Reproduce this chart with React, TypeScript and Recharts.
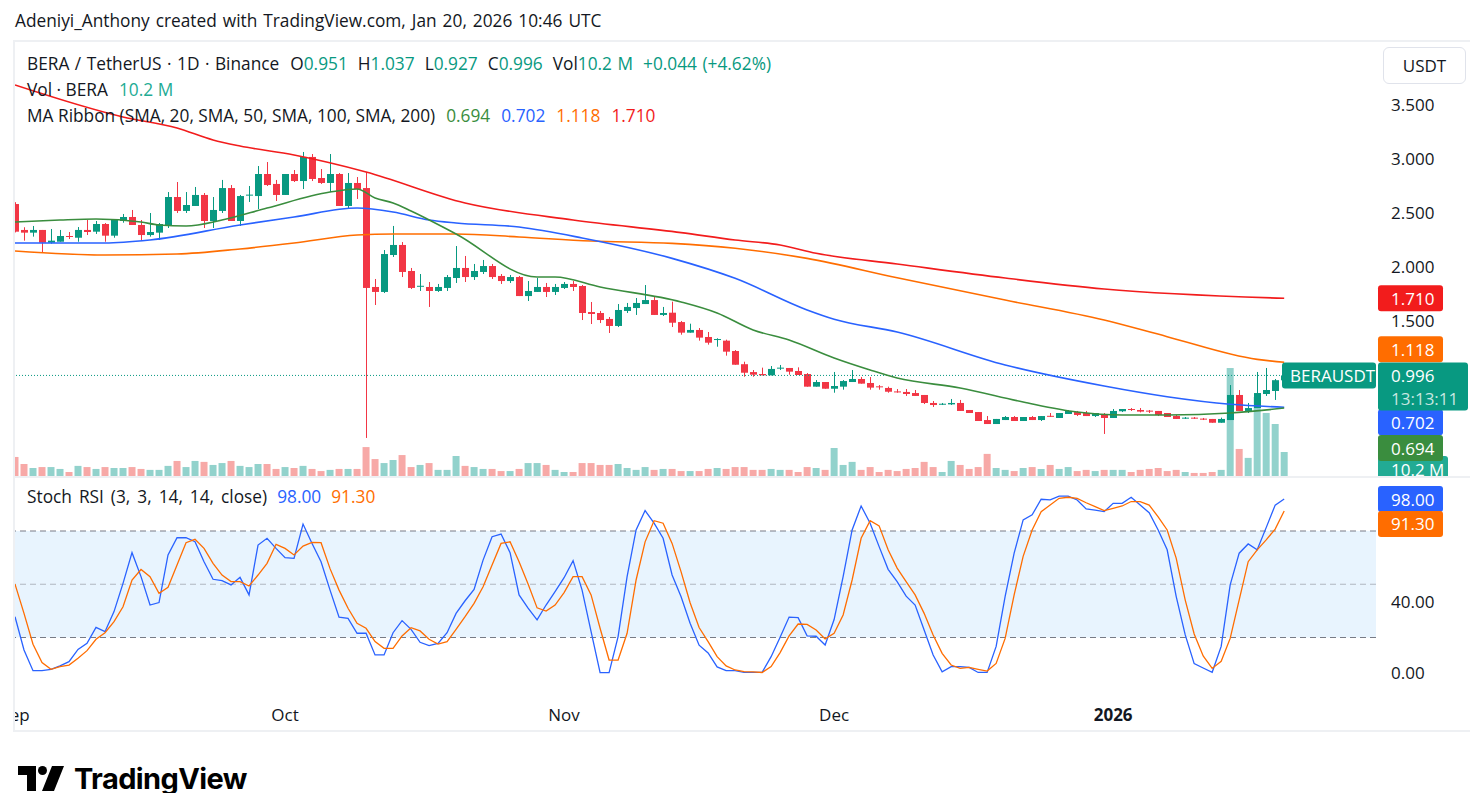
import React from "react";
import {
  ComposedChart,
  Bar,
  Line,
  XAxis,
  YAxis,
  ReferenceLine,
  ReferenceArea,
  ReferenceDot,
  Cell,
} from "recharts";

const FONT = "'Open Sans', 'Noto Sans', sans-serif";
const UP = "#089981";
const DOWN = "#f23645";
const VOL_UP = "#92d2cc";
const VOL_DOWN = "#f7a9a7";
const C20 = "#3a8d3e";
const C50 = "#2962ff";
const C100 = "#ff6d00";
const C200 = "#f21c1c";
const TXT = "#131722";

// ---- daily candles, Sep 1 2025 .. Jan 20 2026 ----
const opens = [
  2.583, 2.343, 2.318, 2.343, 2.225, 2.234, 2.287, 2.271, 2.343, 2.327,
  2.398, 2.29, 2.426, 2.463, 2.389, 2.296, 2.318, 2.389, 2.648, 2.519,
  2.565, 2.667, 2.426, 2.519, 2.731, 2.426, 2.664, 2.657, 2.861, 2.769,
  2.667, 2.861, 2.796, 3.019, 2.824, 2.778, 2.861, 2.565, 2.778, 2.731,
  1.815, 1.769, 2.111, 2.204, 1.963, 1.82, 1.815, 1.778, 1.806, 1.898,
  1.991, 1.907, 1.954, 2.009, 1.917, 1.87, 1.907, 1.731, 1.769, 1.815,
  1.769, 1.806, 1.843, 1.824, 1.583, 1.574, 1.519, 1.454, 1.593, 1.62,
  1.657, 1.694, 1.556, 1.577, 1.49, 1.392, 1.417, 1.352, 1.327, 1.318,
  1.222, 1.1, 1.027, 1.009, 0.997, 1.062, 1.065, 1.037, 1.009, 0.892,
  0.935, 0.873, 0.892, 0.935, 0.963, 0.926, 0.895, 0.88, 0.848, 0.843,
  0.833, 0.815, 0.741, 0.728, 0.728, 0.741, 0.676, 0.657, 0.583, 0.546,
  0.583, 0.611, 0.574, 0.611, 0.583, 0.622, 0.602, 0.639, 0.657, 0.648,
  0.62, 0.639, 0.602, 0.664, 0.685, 0.676, 0.67, 0.667, 0.648, 0.62,
  0.599, 0.605, 0.596, 0.593, 0.558, 0.583, 0.815, 0.667, 0.694, 0.824,
  0.852, 0.951,
];
const highs = [
  2.6, 2.368, 2.38, 2.343, 2.352, 2.343, 2.324, 2.37, 2.435, 2.426,
  2.407, 2.435, 2.491, 2.528, 2.435, 2.5, 2.407, 2.694, 2.787, 2.694,
  2.741, 2.685, 2.648, 2.806, 2.759, 2.667, 2.75, 2.935, 2.972, 2.806,
  2.861, 2.898, 3.065, 3.046, 2.907, 3.046, 2.87, 2.87, 2.833, 2.88,
  1.889, 2.157, 2.38, 2.231, 1.991, 1.935, 1.861, 1.843, 1.926, 2.194,
  2.102, 2.028, 2.065, 2.028, 1.935, 1.926, 1.917, 1.87, 1.898, 1.852,
  1.843, 1.861, 1.87, 1.833, 1.676, 1.593, 1.537, 1.657, 1.667, 1.713,
  1.833, 1.722, 1.63, 1.679, 1.5, 1.475, 1.435, 1.398, 1.34, 1.327,
  1.231, 1.123, 1.046, 1.068, 1.083, 1.093, 1.065, 1.071, 1.018, 0.953,
  0.935, 1.028, 0.953, 1.046, 0.981, 0.981, 0.907, 0.892, 0.87, 0.87,
  0.861, 0.815, 0.759, 0.741, 0.778, 0.769, 0.676, 0.657, 0.62, 0.593,
  0.62, 0.62, 0.611, 0.62, 0.62, 0.648, 0.648, 0.676, 0.667, 0.667,
  0.648, 0.648, 0.685, 0.685, 0.694, 0.694, 0.676, 0.667, 0.648, 0.63,
  0.611, 0.611, 0.602, 0.593, 0.605, 0.907, 0.861, 0.741, 1.028, 1.065,
  0.963, 1.037,
];
const lows = [
  2.32, 2.244, 2.281, 2.139, 2.216, 2.234, 2.259, 2.234, 2.296, 2.306,
  2.234, 2.271, 2.41, 2.389, 2.244, 2.281, 2.25, 2.361, 2.5, 2.5,
  2.565, 2.361, 2.361, 2.5, 2.426, 2.38, 2.602, 2.537, 2.75, 2.611,
  2.667, 2.787, 2.722, 2.796, 2.769, 2.694, 2.565, 2.537, 2.63, 0.417,
  1.648, 1.759, 2.093, 1.907, 1.796, 1.778, 1.63, 1.769, 1.778, 1.852,
  1.861, 1.88, 1.935, 1.889, 1.843, 1.852, 1.731, 1.685, 1.769, 1.722,
  1.741, 1.796, 1.778, 1.509, 1.472, 1.481, 1.389, 1.444, 1.574, 1.556,
  1.657, 1.556, 1.546, 1.444, 1.373, 1.392, 1.318, 1.281, 1.262, 1.179,
  1.095, 0.984, 0.984, 0.997, 0.997, 1.046, 1.003, 1.0, 0.892, 0.892,
  0.873, 0.836, 0.864, 0.935, 0.92, 0.864, 0.864, 0.836, 0.836, 0.806,
  0.806, 0.731, 0.704, 0.722, 0.722, 0.667, 0.648, 0.574, 0.546, 0.546,
  0.583, 0.574, 0.574, 0.583, 0.574, 0.611, 0.602, 0.639, 0.62, 0.62,
  0.611, 0.454, 0.602, 0.657, 0.667, 0.654, 0.648, 0.62, 0.611, 0.593,
  0.593, 0.593, 0.583, 0.558, 0.558, 0.583, 0.667, 0.648, 0.694, 0.806,
  0.769, 0.927,
];
const closes = [
  2.327, 2.318, 2.343, 2.225, 2.244, 2.287, 2.278, 2.343, 2.324, 2.398,
  2.29, 2.435, 2.463, 2.389, 2.296, 2.324, 2.398, 2.648, 2.519, 2.574,
  2.667, 2.426, 2.528, 2.731, 2.426, 2.657, 2.67, 2.861, 2.759, 2.667,
  2.861, 2.796, 3.019, 2.815, 2.778, 2.861, 2.565, 2.778, 2.722, 1.806,
  1.769, 2.12, 2.204, 1.954, 1.806, 1.826, 1.778, 1.815, 1.907, 1.991,
  1.907, 1.963, 2.009, 1.907, 1.87, 1.907, 1.731, 1.778, 1.815, 1.769,
  1.815, 1.843, 1.815, 1.574, 1.565, 1.509, 1.454, 1.602, 1.63, 1.667,
  1.694, 1.556, 1.574, 1.484, 1.392, 1.417, 1.346, 1.299, 1.333, 1.216,
  1.095, 1.021, 1.003, 0.997, 1.056, 1.068, 1.031, 1.0, 0.892, 0.935,
  0.873, 0.898, 0.944, 0.963, 0.92, 0.883, 0.889, 0.845, 0.842, 0.824,
  0.806, 0.741, 0.722, 0.734, 0.741, 0.667, 0.648, 0.574, 0.546, 0.593,
  0.611, 0.574, 0.611, 0.583, 0.62, 0.616, 0.648, 0.667, 0.63, 0.62,
  0.648, 0.602, 0.667, 0.685, 0.676, 0.661, 0.664, 0.63, 0.611, 0.593,
  0.605, 0.599, 0.59, 0.558, 0.593, 0.815, 0.667, 0.694, 0.833, 0.861,
  0.952, 0.996,
];
// volume, millions of BERA
const volumes = [
  8.1, 5.1, 3.4, 3.8, 3.8, 3.0, 1.7, 4.3, 3.8, 3.0,
  3.8, 3.4, 3.4, 3.8, 3.0, 2.6, 2.6, 4.3, 6.4, 3.8,
  6.4, 6.0, 4.7, 5.5, 6.4, 4.3, 3.8, 5.1, 5.1, 3.0,
  3.8, 3.4, 4.3, 3.0, 2.1, 2.6, 3.0, 3.0, 3.0, 12.3,
  7.2, 5.5, 6.8, 8.9, 3.8, 4.7, 5.5, 2.6, 2.6, 8.5,
  4.3, 3.8, 3.0, 3.0, 2.1, 2.1, 3.0, 5.5, 5.5, 4.7,
  2.6, 1.7, 1.7, 5.5, 5.5, 4.7, 4.7, 5.1, 3.4, 2.6,
  3.8, 2.6, 3.0, 3.0, 2.1, 2.1, 2.1, 3.0, 3.4, 3.0,
  3.8, 3.8, 2.6, 2.6, 3.0, 2.6, 2.6, 1.7, 3.8, 3.4,
  2.6, 11.9, 4.7, 6.0, 2.6, 3.8, 1.7, 2.6, 2.1, 3.0,
  3.4, 6.0, 3.8, 1.7, 6.4, 4.7, 3.0, 3.8, 9.4, 3.4,
  2.6, 2.1, 3.4, 3.8, 3.0, 4.7, 3.0, 3.8, 2.1, 2.6,
  2.1, 2.6, 2.6, 2.6, 1.7, 2.6, 3.0, 3.4, 2.1, 2.6,
  1.7, 1.3, 1.3, 1.7, 2.6, 45.9, 11.5, 7.7, 33.6, 26.8,
  22.1, 10.2,
];
// Stoch RSI (3, 3, 14, 14)
const stochK = [
  31.7, 13, 1.3, 1.3, 2.1, 4, 6.4, 13.3, 16.7, 25.7,
  23.3, 34.6, 50.5, 67.8, 54.3, 38.3, 39.7, 66.5, 76.2, 76.2,
  74, 62.7, 52.8, 52, 49.6, 53.9, 44, 72.1, 75.9, 70.2,
  65, 64.6, 83.9, 73, 62.7, 46.7, 31.4, 30.8, 22.4, 22.4,
  10.2, 10.2, 22.7, 29.5, 24.6, 17.3, 15.4, 16.7, 22.7, 33.6,
  40.7, 47.1, 63.6, 76.8, 78.3, 67.8, 44, 36.5, 29.9, 38.3,
  45.9, 53.7, 63.3, 46.7, 23.3, 0.2, 0.2, 20.5, 54.3, 80.6,
  91.5, 84.4, 75.9, 55.2, 43, 28, 15.7, 11.3, 3.4, 1.3,
  1.3, 0.4, 0.4, 0.4, 9.2, 20.1, 31.5, 31.2, 20.9, 20.7,
  15.8, 30.1, 54.3, 80.6, 94.1, 84.4, 71.2, 58.4, 51.5, 43.3,
  38.3, 24.2, 10.1, 0.7, 3.6, 3.6, 3.2, 0.3, 0.3, 15,
  43.2, 67.5, 86.3, 89.1, 97.9, 97.5, 99.7, 99.7, 97.5, 92.4,
  91.8, 90.9, 95.6, 95.6, 99, 94.6, 90.3, 80.6, 69.4, 43.2,
  21.6, 5.3, 2.8, 0.4, 15, 49.7, 67.5, 72.7, 69.4, 81.9,
  94.6, 98.0,
];
const stochD = [
  50.1, 33.6, 16.2, 5.9, 2.1, 3.6, 4.5, 8.3, 12.6, 19,
  22.7, 28.9, 37.3, 52.4, 58.3, 54.3, 44.9, 48.3, 60.8, 73.4,
  75.3, 70.2, 61.8, 55.2, 51.5, 51.5, 49, 55.2, 61.8, 72.5,
  70.2, 66.5, 71.5, 73.6, 73.4, 58.8, 46.7, 36.5, 28, 25.2,
  17.7, 13.9, 13.9, 20.9, 25.5, 23.7, 19, 16.3, 17.7, 24.6,
  31.7, 39.2, 48.6, 60.8, 73, 73.9, 62.7, 50.1, 36.7, 34.9,
  38.3, 45.3, 54.3, 54.3, 44, 25.2, 7.3, 7.3, 22.4, 52.4,
  73.9, 85.8, 84.4, 73, 57, 39.6, 25.6, 17.7, 9.2, 4,
  1.7, 0.8, 0.6, 0.3, 3.6, 11.5, 20.9, 27.6, 27.4, 24.2,
  19.2, 22.4, 32.7, 52.4, 75.9, 85.8, 82.9, 69.4, 59.1, 51.5,
  44, 33.6, 21.4, 11.1, 4.5, 2.6, 3.2, 2.1, 1.1, 5.4,
  19.5, 44, 65.7, 80.6, 90.9, 94.6, 98.4, 99, 98.4, 95.9,
  93.7, 91.5, 92.8, 94.1, 96.6, 96.6, 94.6, 88, 80.6, 64.7,
  41.2, 22, 9.6, 2.6, 6.6, 19.5, 41.2, 62.7, 69.4, 75, 81.1, 91.3,
];
// MA ribbon readings [day index, value]
const ma20Pts: [number, number][] = [
  [0, 2.417], [5, 2.435], [9, 2.444], [14, 2.417], [16, 2.389], [19, 2.38],
  [23, 2.435], [28, 2.546], [35, 2.694], [38, 2.722], [40, 2.639], [42, 2.593],
  [44, 2.519], [49, 2.306], [58, 1.907], [60, 1.907], [65, 1.815], [74, 1.676],
  [78, 1.574], [82, 1.417], [86, 1.324], [91, 1.157], [95, 1.046], [98, 0.972],
  [105, 0.88], [112, 0.75], [118, 0.657], [123, 0.63], [128, 0.63], [135, 0.648],
  [141, 0.694],
];
const ma50Pts: [number, number][] = [
  [0, 2.222], [10, 2.222], [15, 2.25], [25, 2.389], [31, 2.463], [38, 2.546],
  [42, 2.509], [46, 2.435], [49, 2.407], [56, 2.37], [63, 2.269], [73, 2.08],
  [80, 1.895], [88, 1.602], [91, 1.516], [98, 1.398], [110, 1.093], [121, 0.898],
  [128, 0.799], [135, 0.729], [141, 0.702],
];
const ma100Pts: [number, number][] = [
  [0, 2.148], [10, 2.111], [18, 2.12], [25, 2.167], [31, 2.222], [38, 2.296],
  [42, 2.306], [49, 2.306], [56, 2.278], [64, 2.241], [73, 2.219], [80, 2.173],
  [88, 2.08], [98, 1.9], [110, 1.694], [121, 1.509], [128, 1.355], [138, 1.145],
  [141, 1.118],
];
const ma200Pts: [number, number][] = [
  [0, 3.685], [12, 3.389], [18, 3.287], [22, 3.176], [25, 3.12], [31, 3.037],
  [39, 2.88], [50, 2.593], [62, 2.435], [74, 2.318], [80, 2.25], [85, 2.204],
  [89, 2.127], [98, 2.028], [110, 1.898], [121, 1.796], [141, 1.71],
];

const priceTicks = [1.5, 2, 2.5, 3, 3.5];
const stochTicks = [0, 40];
const timeTickIdx = [0, 30, 61, 91, 122];
const timeLabels = ["Sep", "Oct", "Nov", "Dec", "2026"];

const X_DOMAIN: [number, number] = [0, 151.2];
const P_DOMAIN: [number, number] = [0.0648, 4.0833];
const V_DOMAIN: [number, number] = [0, 184.5];
const S_DOMAIN: [number, number] = [-15.21, 109.86];

const toMap = (pts: [number, number][]) => new Map(pts);
const m20 = toMap(ma20Pts);
const m50 = toMap(ma50Pts);
const m100 = toMap(ma100Pts);
const m200 = toMap(ma200Pts);

const data = opens.map((o, i) => ({
  i,
  open: o,
  high: highs[i],
  low: lows[i],
  close: closes[i],
  range: [lows[i], highs[i]],
  vol: volumes[i],
  up: closes[i] >= o,
  k: stochK[i],
  d: stochD[i],
  ma20: m20.has(i) ? m20.get(i) : null,
  ma50: m50.has(i) ? m50.get(i) : null,
  ma100: m100.has(i) ? m100.get(i) : null,
  ma200: m200.has(i) ? m200.get(i) : null,
}));

const last = data.length - 1;
const lastC = closes[last];
const prevC = closes[last - 1];
const chg = lastC - prevC;
const chgPct = (chg / prevC) * 100;

const Candle = (p: any) => {
  const d = p.payload || p;
  if (p.x == null || p.y == null) return null;
  const top = Math.min(p.y, p.y + p.height);
  const h = Math.abs(p.height);
  const span = d.high - d.low;
  const toY = (v: number) => (span === 0 ? top : top + ((d.high - v) / span) * h);
  const yO = toY(d.open);
  const yC = toY(d.close);
  const up = d.close >= d.open;
  const color = up ? UP : DOWN;
  const cx = Math.round(p.x + p.width / 2);
  const bTop = Math.min(yO, yC);
  const bH = Math.max(1, Math.abs(yC - yO));
  return (
    <g>
      <line x1={cx + 0.5} x2={cx + 0.5} y1={top} y2={top + Math.max(h, 1)} stroke={color} strokeWidth={1} />
      <rect x={cx - 3} y={bTop} width={7} height={bH} fill={color} />
    </g>
  );
};

const Tag = ({ cx, cy, dy = 0, w = 65, bg, text }: any) => {
  if (cx == null || cy == null) return null;
  const y = cy + dy;
  return (
    <g>
      <rect x={cx + 2} y={y - 13} width={w} height={26} rx={3} fill={bg} />
      <text x={cx + 15} y={y} dominantBaseline="central" fill="#fff" fontSize={17} fontFamily={FONT}>
        {text}
      </text>
    </g>
  );
};

const LastPriceTag = ({ cx, cy, text }: any) => {
  if (cx == null || cy == null) return null;
  return (
    <g>
      <rect x={cx - 94} y={cy - 13} width={94} height={26} rx={3} fill={UP} />
      <text x={cx - 86} y={cy} dominantBaseline="central" fill="#fff" fontSize={17} fontFamily={FONT}>
        BERAUSDT
      </text>
      <rect x={cx + 2} y={cy - 13} width={90} height={48} rx={3} fill={UP} />
      <text x={cx + 15} y={cy} dominantBaseline="central" fill="#fff" fontSize={17} fontFamily={FONT}>
        {text}
      </text>
      <text x={cx + 15} y={cy + 23} dominantBaseline="central" fill="rgba(255,255,255,0.78)" fontSize={17} fontFamily={FONT}>
        13:13:11
      </text>
    </g>
  );
};

const TimeTick = (p: any) => {
  const idx = timeTickIdx.indexOf(p.payload.value);
  const label = timeLabels[idx] ?? "";
  return (
    <text
      x={p.x}
      y={p.y + 14}
      textAnchor="middle"
      dominantBaseline="central"
      fontSize={17}
      fontWeight={label === "2026" ? 700 : 400}
      fill={TXT}
      fontFamily={FONT}
    >
      {label}
    </text>
  );
};

const legendRow: React.CSSProperties = {
  position: "absolute",
  left: 27,
  fontSize: 17.3,
  lineHeight: "26px",
  color: TXT,
  whiteSpace: "nowrap",
  fontFamily: FONT,
};

export default function App() {
  const ma20Last = ma20Pts[ma20Pts.length - 1][1];
  const ma50Last = ma50Pts[ma50Pts.length - 1][1];
  const ma100Last = ma100Pts[ma100Pts.length - 1][1];
  const ma200Last = ma200Pts[ma200Pts.length - 1][1];
  return (
    <div
      style={{
        position: "absolute",
        left: 0,
        top: 0,
        width: 1470,
        height: 793,
        background: "#fff",
        overflow: "hidden",
        fontFamily: FONT,
      }}
    >
      <div style={{ position: "absolute", left: 15, top: 8, fontSize: 17.3, wordSpacing: 1.5, lineHeight: "26px", color: TXT, whiteSpace: "nowrap" }}>
        Adeniyi_Anthony created with TradingView.com, Jan 20, 2026 10:46 UTC
      </div>

      {/* frame */}
      <div style={{ position: "absolute", left: 13, top: 40, width: 1470, height: 692, border: "2px solid #eef0f3", boxSizing: "border-box" }} />
      <div style={{ position: "absolute", left: 15, top: 476, width: 1455, height: 2, background: "#eef0f3" }} />

      {/* volume layer */}
      <div style={{ position: "absolute", left: 15, top: 42, width: 1455, height: 434, overflow: "hidden" }}>
        <ComposedChart width={1455} height={434} data={data} margin={{ top: 0, right: 94, bottom: 0, left: 0 }}>
          <XAxis dataKey="i" type="number" domain={X_DOMAIN} hide allowDataOverflow />
          <YAxis yAxisId="v" domain={V_DOMAIN} hide allowDataOverflow />
          <Bar yAxisId="v" dataKey="vol" barSize={7} isAnimationActive={false}>
            {data.map((d) => (
              <Cell key={d.i} fill={d.up ? VOL_UP : VOL_DOWN} />
            ))}
          </Bar>
          <ReferenceDot
            yAxisId="v"
            x={X_DOMAIN[1]}
            y={volumes[last]}
            r={0}
            ifOverflow="visible"
            shape={(p: any) => <Tag cx={p.cx} cy={p.cy} dy={17} w={70} bg="#22ab94" text={`${volumes[last].toFixed(1)} M`} />}
          />
        </ComposedChart>
      </div>

      {/* price layer */}
      <div style={{ position: "absolute", left: 15, top: 42, width: 1455, height: 434, overflow: "hidden" }}>
        <ComposedChart width={1455} height={434} data={data} margin={{ top: 0, right: 0, bottom: 0, left: 0 }}>
          <XAxis dataKey="i" type="number" domain={X_DOMAIN} hide allowDataOverflow />
          <YAxis
            yAxisId="p"
            orientation="right"
            width={94}
            domain={P_DOMAIN}
            ticks={priceTicks}
            tickFormatter={(v: number) => v.toFixed(3)}
            axisLine={false}
            tickLine={false}
            tickSize={0}
            tickMargin={15}
            tick={{ fill: TXT, fontSize: 17, fontFamily: FONT }}
            allowDataOverflow
          />
          <ReferenceLine yAxisId="p" y={lastC} stroke={UP} strokeDasharray="1 2" strokeWidth={1} />
          <Line yAxisId="p" dataKey="ma200" type="monotone" stroke={C200} strokeWidth={1.6} dot={false} connectNulls isAnimationActive={false} />
          <Line yAxisId="p" dataKey="ma100" type="monotone" stroke={C100} strokeWidth={1.6} dot={false} connectNulls isAnimationActive={false} />
          <Line yAxisId="p" dataKey="ma50" type="monotone" stroke={C50} strokeWidth={1.6} dot={false} connectNulls isAnimationActive={false} />
          <Line yAxisId="p" dataKey="ma20" type="monotone" stroke={C20} strokeWidth={1.6} dot={false} connectNulls isAnimationActive={false} />
          <Bar yAxisId="p" dataKey="range" barSize={7} isAnimationActive={false} shape={(p: any) => <Candle {...p} />} />
          <ReferenceDot yAxisId="p" x={X_DOMAIN[1]} y={ma200Last} r={0} ifOverflow="visible"
            shape={(p: any) => <Tag cx={p.cx} cy={p.cy} bg={C200} text={ma200Last.toFixed(3)} />} />
          <ReferenceDot yAxisId="p" x={X_DOMAIN[1]} y={ma100Last} r={0} ifOverflow="visible"
            shape={(p: any) => <Tag cx={p.cx} cy={p.cy} dy={-13} bg={C100} text={ma100Last.toFixed(3)} />} />
          <ReferenceDot yAxisId="p" x={X_DOMAIN[1]} y={ma50Last} r={0} ifOverflow="visible"
            shape={(p: any) => <Tag cx={p.cx} cy={p.cy} dy={15} bg={C50} text={ma50Last.toFixed(3)} />} />
          <ReferenceDot yAxisId="p" x={X_DOMAIN[1]} y={ma20Last} r={0} ifOverflow="visible"
            shape={(p: any) => <Tag cx={p.cx} cy={p.cy} dy={40} bg={C20} text={ma20Last.toFixed(3)} />} />
          <ReferenceDot yAxisId="p" x={X_DOMAIN[1]} y={lastC} r={0} ifOverflow="visible"
            shape={(p: any) => <LastPriceTag cx={p.cx} cy={p.cy} text={lastC.toFixed(3)} />} />
        </ComposedChart>
      </div>

      {/* stoch rsi pane */}
      <div style={{ position: "absolute", left: 15, top: 478, width: 1455, height: 255, overflow: "hidden" }}>
        <ComposedChart width={1455} height={255} data={data} margin={{ top: 0, right: 0, bottom: 0, left: 0 }}>
          <XAxis
            dataKey="i"
            type="number"
            domain={X_DOMAIN}
            ticks={timeTickIdx}
            interval={0}
            height={33}
            axisLine={false}
            tickLine={false}
            tickSize={0}
            tickMargin={0}
            tick={(p: any) => <TimeTick {...p} />}
            allowDataOverflow
          />
          <YAxis
            yAxisId="s"
            orientation="right"
            width={94}
            domain={S_DOMAIN}
            ticks={stochTicks}
            tickFormatter={(v: number) => v.toFixed(2)}
            axisLine={false}
            tickLine={false}
            tickSize={0}
            tickMargin={15}
            tick={{ fill: TXT, fontSize: 17, fontFamily: FONT }}
            allowDataOverflow
          />
          <ReferenceArea yAxisId="s" y1={20} y2={80} fill="#2196f3" fillOpacity={0.1} stroke="none" />
          <ReferenceLine yAxisId="s" y={80} stroke="#787b86" strokeDasharray="6 4" />
          <ReferenceLine yAxisId="s" y={50} stroke="#787b86" strokeOpacity={0.5} strokeDasharray="6 4" />
          <ReferenceLine yAxisId="s" y={20} stroke="#787b86" strokeDasharray="6 4" />
          <Line yAxisId="s" dataKey="k" type="linear" stroke={C50} strokeWidth={1.3} dot={false} isAnimationActive={false} />
          <Line yAxisId="s" dataKey="d" type="linear" stroke={C100} strokeWidth={1.3} dot={false} isAnimationActive={false} />
          <ReferenceDot yAxisId="s" x={X_DOMAIN[1]} y={stochK[last]} r={0} ifOverflow="visible"
            shape={(p: any) => <Tag cx={p.cx} cy={p.cy} bg={C50} text={stochK[last].toFixed(2)} />} />
          <ReferenceDot yAxisId="s" x={X_DOMAIN[1]} y={stochD[last]} r={0} ifOverflow="visible"
            shape={(p: any) => <Tag cx={p.cx} cy={p.cy} dy={13} bg={C100} text={stochD[last].toFixed(2)} />} />
        </ComposedChart>
      </div>

      {/* legends */}
      <div style={{ ...legendRow, top: 51, wordSpacing: 1 }}>
        BERA / TetherUS · 1D · Binance
        <span style={{ marginLeft: 11 }}>O<span style={{ color: UP }}>{opens[last].toFixed(3)}</span></span>
        <span style={{ marginLeft: 10 }}>H<span style={{ color: UP }}>{highs[last].toFixed(3)}</span></span>
        <span style={{ marginLeft: 10 }}>L<span style={{ color: UP }}>{lows[last].toFixed(3)}</span></span>
        <span style={{ marginLeft: 10 }}>C<span style={{ color: UP }}>{lastC.toFixed(3)}</span></span>
        <span style={{ marginLeft: 10 }}>Vol<span style={{ color: UP }}>{volumes[last].toFixed(1)} M</span></span>
        <span style={{ marginLeft: 10, color: UP }}>
          +{chg.toFixed(3)} (+{chgPct.toFixed(2)}%)
        </span>
      </div>
      <div style={{ ...legendRow, top: 77 }}>
        Vol · BERA<span style={{ marginLeft: 11, color: "#22ab94" }}>{volumes[last].toFixed(1)} M</span>
      </div>
      <div style={{ ...legendRow, top: 103 }}>
        MA Ribbon (SMA, 20, SMA, 50, SMA, 100, SMA, 200)
        <span style={{ marginLeft: 11, color: C20 }}>{ma20Last.toFixed(3)}</span>
        <span style={{ marginLeft: 11, color: C50 }}>{ma50Last.toFixed(3)}</span>
        <span style={{ marginLeft: 11, color: C100 }}>{ma100Last.toFixed(3)}</span>
        <span style={{ marginLeft: 11, color: C200 }}>{ma200Last.toFixed(3)}</span>
      </div>
      <div style={{ ...legendRow, top: 484, wordSpacing: 2.5 }}>
        Stoch RSI (3, 3, 14, 14, close)
        <span style={{ marginLeft: 10, color: C50 }}>{stochK[last].toFixed(2)}</span>
        <span style={{ marginLeft: 10, color: C100 }}>{stochD[last].toFixed(2)}</span>
      </div>

      {/* USDT button */}
      <div
        style={{
          position: "absolute",
          left: 1383,
          top: 47,
          width: 83,
          height: 37,
          border: "1px solid #e0e3eb",
          borderRadius: 6,
          boxSizing: "border-box",
          display: "flex",
          alignItems: "center",
          justifyContent: "center",
          fontSize: 17,
          color: TXT,
        }}
      >
        USDT
      </div>

      {/* TradingView logo */}
      <svg style={{ position: "absolute", left: 0, top: 758 }} width={300} height={35}>
        <path d="M18 8 H36 V33 H27 V17 H18 Z" fill="#000" />
        <circle cx={42.5} cy={12.5} r={4.5} fill="#000" />
        <path d="M52 8 H64 L54 33 H42 Z" fill="#000" />
        <text x={74} y={20} dominantBaseline="central" fontSize={29} fontWeight={700} fontFamily="Inter, 'Open Sans', sans-serif" fill="#000" letterSpacing={-0.6}>
          TradingView
        </text>
      </svg>
    </div>
  );
}
